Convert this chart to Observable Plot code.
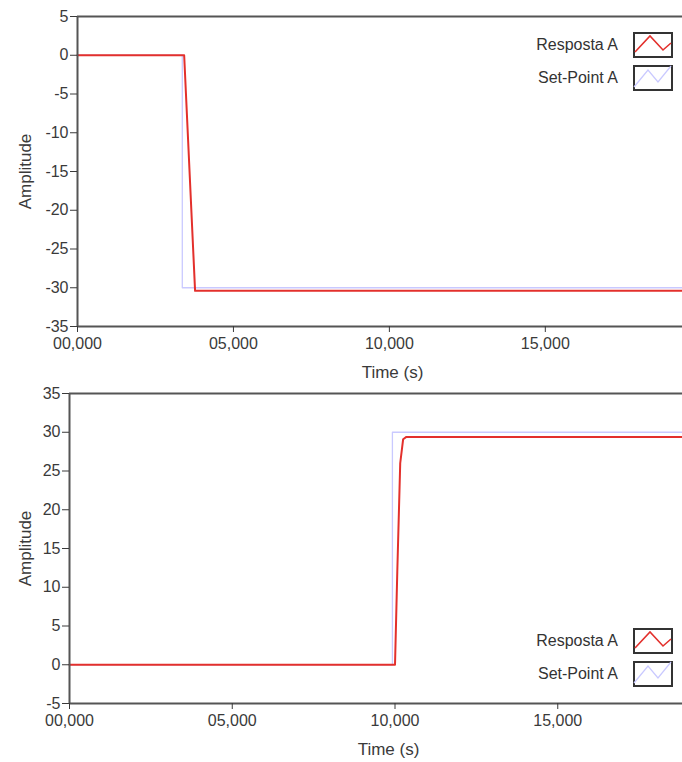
<!DOCTYPE html>
<html>
<head>
<meta charset="utf-8">
<script src="https://cdn.jsdelivr.net/npm/d3@7"></script>
<script src="https://cdn.jsdelivr.net/npm/@observablehq/plot@0.6"></script>
<style>
  html, body { margin: 0; padding: 0; background: #fff; overflow: hidden; width: 682px; height: 762px; }
  #wrap { position: relative; width: 682px; height: 762px; overflow: hidden; font-family: "Liberation Sans", Arial, sans-serif; }
  .chart { position: absolute; left: 0; max-width: none !important; height: auto; }
  .leg { position: absolute; display: flex; align-items: center; color: #333; font-size: 16px; }
  .leg .lab { width: 120px; text-align: right; margin-right: 15px; }
  .leg svg { display: block; }
</style>
</head>
<body>
<div id="wrap"></div>
<script>
// ---- data ----
// top chart: step down
const topRespTime = [0, 3.42, 3.77, 20.2];
const topRespAmp  = [0, 0, -30.4, -30.4];
const topSetTime  = [0, 3.36, 3.36, 20.2];
const topSetAmp   = [0, 0, -30, -30];
// bottom chart: step up
const botRespTime = [0, 10.0, 10.07, 10.16, 10.25, 10.35, 19.6];
const botRespAmp  = [0, 0, 12, 26, 29.1, 29.4, 29.4];
const botSetTime  = [0, 9.92, 9.92, 19.6];
const botSetAmp   = [0, 0, 30, 30];
// axes
const xTicks = [0, 5, 10, 15];
const topYTicks = [-35, -30, -25, -20, -15, -10, -5, 0, 5];
const botYTicks = [-5, 0, 5, 10, 15, 20, 25, 30, 35];
const seriesNames = ["Resposta A", "Set-Point A"];
const seriesColors = ["#e3302c", "#c9c9ff"];

const FONT = '"Liberation Sans", Arial, sans-serif';
const fmtX = d => String(d).padStart(2, "0") + ",000";
const rows = (ts, as) => ts.map((t, i) => ({t, a: as[i]}));

function chart({rT, rA, sT, sA, xMax, yDomain, yTicks, marginLeft, marginTop, height, yLabelOffset}) {
  return Plot.plot({
    width: 707, height, marginLeft, marginTop, marginRight: 0, marginBottom: 59,
    x: {domain: [0, xMax]},
    y: {domain: yDomain},
    style: {fontFamily: FONT, fontSize: "16px", color: "#3a3a3a", background: "transparent", overflow: "visible", maxWidth: "none"},
    marks: [
      Plot.line(rows(sT, sA), {x: "t", y: "a", stroke: seriesColors[1], strokeWidth: 1.3}),
      Plot.line(rows(rT, rA), {x: "t", y: "a", stroke: seriesColors[0], strokeWidth: 2}),
      Plot.ruleX([0], {stroke: "#555", strokeWidth: 2}),
      Plot.ruleY(yDomain, {stroke: "#555", strokeWidth: 2}),
      Plot.axisX({ticks: xTicks, tickFormat: fmtX, tickSize: 6, tickPadding: 5, fontSize: 16, label: null}),
      Plot.axisX({ticks: [], label: "Time (s)", labelAnchor: "center", labelArrow: "none", labelOffset: 51, fontSize: 17}),
      Plot.axisY({ticks: yTicks, tickFormat: d => String(d), tickSize: 7, tickPadding: 2, fontSize: 16, label: null}),
      Plot.axisY({ticks: [], label: "Amplitude", labelAnchor: "center", labelArrow: "none", labelOffset: yLabelOffset, fontSize: 17})
    ]
  });
}

const wrap = document.getElementById("wrap");

const top1 = chart({rT: topRespTime, rA: topRespAmp, sT: topSetTime, sA: topSetAmp, xMax: 20.2,
  yDomain: [-35, 5], yTicks: topYTicks, marginLeft: 77, marginTop: 16, height: 385, yLabelOffset: 59});
top1.classList.add("chart"); top1.style.top = "0px";
wrap.appendChild(top1);

const bot1 = chart({rT: botRespTime, rA: botRespAmp, sT: botSetTime, sA: botSetAmp, xMax: 19.6,
  yDomain: [-5, 35], yTicks: botYTicks, marginLeft: 69, marginTop: 8, height: 377, yLabelOffset: 51});
bot1.classList.add("chart"); bot1.style.top = "385px";
wrap.appendChild(bot1);

// legends
const zig = [
  [[2, 20], [17, 4], [30, 18], [38, 11]],
  [[1, 22], [15, 5], [25, 17], [38, 1]]
];
function legend(top) {
  seriesNames.forEach((name, i) => {
    const d = document.createElement("div");
    d.className = "leg";
    d.style.left = "498px";
    d.style.top = (top + i * 33) + "px";
    const s = d3.create("svg").attr("width", 40).attr("height", 26);
    s.append("rect").attr("x", 1).attr("y", 1).attr("width", 38).attr("height", 24)
      .attr("fill", "#fff").attr("stroke", "#333").attr("stroke-width", 2);
    s.append("polyline").attr("points", zig[i].map(p => p.join(",")).join(" "))
      .attr("fill", "none").attr("stroke", seriesColors[i]).attr("stroke-width", i === 0 ? 1.6 : 1.2);
    d.innerHTML = `<span class="lab">${name}</span>`;
    d.appendChild(s.node());
    wrap.appendChild(d);
  });
}
legend(32);
legend(628);
</script>
</body>
</html>
